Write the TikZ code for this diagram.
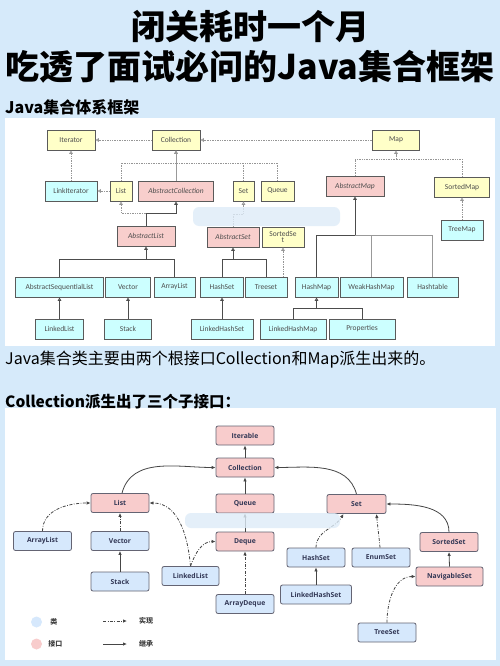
\documentclass[tikz,border=0pt]{standalone}
\usepackage{fontspec}
\setmainfont{Carlito}
\newfontfamily\cjkfont{Noto Sans CJK SC}
\newfontfamily\umlfont{Open Sans}
\usetikzlibrary{arrows.meta, positioning}
\definecolor{pagebg}{RGB}{214,234,250}
\definecolor{ifyellow}{RGB}{255,255,200}
\definecolor{abspink}{RGB}{248,206,204}
\definecolor{implcyan}{RGB}{204,255,255}
\definecolor{boxline}{RGB}{90,90,90}
\definecolor{dotgray}{RGB}{150,150,150}
\definecolor{umlpink}{RGB}{248,204,204}
\definecolor{umlblue}{RGB}{214,232,252}
\definecolor{umlline}{RGB}{100,100,115}
\definecolor{umltext}{RGB}{50,55,85}
\definecolor{arrowgray}{RGB}{70,70,70}
\definecolor{smudge}{RGB}{222,236,248}

\begin{document}
\begin{tikzpicture}[x=1pt, y=-1pt,
  box/.style={draw=boxline, line width=0.7pt, minimum height=20pt, inner sep=1pt,
    align=center, font=\fontsize{7.5}{7.5}\selectfont, text=black!70},
  iface/.style={box, fill=ifyellow},
  abstr/.style={box, fill=abspink, font=\fontsize{7.5}{7.5}\selectfont\itshape},
  impl/.style={box, fill=implcyan},
  hollow/.style={-{Triangle[open, length=3.5pt, width=3.5pt]}},
  realize/.style={draw=dotgray, densely dotted, line width=0.7pt},
  extend/.style={draw=black!70, line width=0.8pt},
  uml/.style={draw=umlline, line width=0.8pt, rounded corners=2pt, minimum width=58pt,
    minimum height=19pt, inner sep=1pt, font=\umlfont\bfseries\fontsize{6.8}{7}\selectfont, text=umltext},
  uiface/.style={uml, fill=umlpink},
  uclass/.style={uml, fill=umlblue},
  inherit/.style={draw=arrowgray, line width=0.8pt, -{Latex[length=4pt, width=3.5pt]}},
  implement/.style={inherit, dash pattern=on 3pt off 1.5pt on 0.8pt off 1.5pt},
  legend/.style={font=\cjkfont\bfseries\fontsize{7}{7}\selectfont, text=black!75, inner sep=0pt}
]
\useasboundingbox (0,0) rectangle (500,666);
\fill[pagebg] (0,0) rectangle (500,666);
\fill[white] (5,118) rectangle (495,346);
\fill[white] (5,408) rectangle (496,660);

\node[font=\cjkfont\bfseries\fontsize{34}{36}\selectfont] (title1) at (250,27) {闭关耗时一个月};
\node[font=\cjkfont\bfseries\fontsize{34}{36}\selectfont] (title2) at (250,67) {吃透了面试必问的Java集合框架};
\node[anchor=west, inner sep=0pt, font=\cjkfont\bfseries\fontsize{16}{18}\selectfont] (head1) at (5,107) {Java集合体系框架};
\node[anchor=west, inner sep=0pt, font=\cjkfont\fontsize{16}{18}\selectfont] (note1) at (5,360) {Java集合类主要由两个根接口Collection和Map派生出来的。};
\node[anchor=west, inner sep=0pt, font=\cjkfont\bfseries\fontsize{15.5}{18}\selectfont] (head2) at (5,402) {Collection派生出了三个子接口：};

% framework overview
\node[iface, minimum width=48pt] (iter) at (71,140) {Iterator};
\node[iface, minimum width=48pt] (coll) at (176,140) {Collection};
\node[iface, minimum width=47pt] (map) at (396,140) {Map};
\node[impl, minimum width=52pt] (linkiter) at (71,191) {LinkIterator};
\node[iface, minimum width=22pt] (list) at (121,191) {List};
\node[abstr, minimum width=75pt] (abscoll) at (176,191) {AbstractCollection};
\node[iface, minimum width=21pt] (set) at (243.5,191) {Set};
\node[iface, minimum width=33pt] (queue) at (277.5,191) {Queue};
\node[abstr, minimum width=58pt] (absmap) at (355,186) {AbstractMap};
\node[iface, minimum width=55pt] (sortmap) at (462,187) {SortedMap};
\node[impl, minimum width=42pt] (treemap) at (462,230) {TreeMap};
\node[abstr, minimum width=58pt] (abslist) at (146,236) {AbstractList};
\node[abstr, minimum width=52pt] (absset) at (233,237) {AbstractSet};
\node[iface, minimum width=42pt, font=\fontsize{7.5}{6.5}\selectfont] (sortset) at (283,237) {SortedSe\\t};
\node[impl, minimum width=88pt] (absseq) at (59.5,287) {AbstractSequentialList};
\node[impl, minimum width=45pt] (vector) at (128,287) {Vector};
\node[impl, minimum width=41pt] (arrlist) at (174.5,287) {ArrayList};
\node[impl, minimum width=43pt] (hashset) at (222,287) {HashSet};
\node[impl, minimum width=42pt] (treeset) at (266,287) {Treeset};
\node[impl, minimum width=43pt] (hashmap) at (316.5,287) {HashMap};
\node[impl, minimum width=63pt] (weakmap) at (371.5,287) {WeakHashMap};
\node[impl, minimum width=51pt] (htable) at (432.5,287) {Hashtable};
\node[impl, minimum width=48pt] (linked) at (59.5,329) {LinkedList};
\node[impl, minimum width=47pt] (stack) at (128,329) {Stack};
\node[impl, minimum width=62pt] (lhset) at (222,329) {LinkedHashSet};
\node[impl, minimum width=66pt] (lhmap) at (293,329) {LinkedHashMap};
\node[impl, minimum width=66pt] (props) at (362,329) {Properties};

\coordinate (cbus) at (176,163);
\coordinate (mbus) at (396,159);
\coordinate (albus) at (146,213);
\coordinate (asbus) at (233,214);
\coordinate (lbus) at (146,259);
\coordinate (sbus) at (233,259);
\coordinate (mapbus) at (355,235);
\coordinate (hmbus) at (316.5,308);

\draw[realize, hollow] (coll.west) -- (iter.east);
\draw[realize, hollow] (map.west) -- (coll.east);
\draw[realize, hollow] (linkiter.north) -- (iter.south);
\draw[realize, hollow] (list.west) -- (linkiter.east);
\draw[realize, hollow] (list.north) |- (cbus) -- (coll.south);
\draw[realize] (set.north) |- (cbus);
\draw[realize] (queue.north) |- (cbus);
\draw[extend, draw=black!40, hollow] (abscoll.north) -- (coll.south);
\draw[realize, hollow] (absmap.north) |- (mbus) -- (map.south);
\draw[realize] (sortmap.north) |- (mbus);
\draw[realize, hollow] (treemap.north) -- (sortmap.south);
\draw[extend, hollow] (abslist.north) -- (albus) -| (abscoll.south);
\draw[realize, hollow] (albus) -| (list.south);
\draw[realize, hollow] (absset.north) -- (asbus) -| (set.south);
\draw[extend, hollow] (absseq.north) |- (lbus) -- (abslist.south);
\draw[extend] (arrlist.north) |- (lbus);
\draw[extend, hollow] (hashset.north) |- (sbus) -- (absset.south);
\draw[extend] (treeset.north) |- (sbus);
\draw[realize, hollow] (treeset.north -| sortset.south) -- (sortset.south);
\draw[extend, hollow] (hashmap.north) |- (mapbus) -- (absmap.south);
\draw[extend, draw=black!40] (weakmap.north) |- (mapbus);
\draw[extend, draw=black!40] (htable.north) |- (mapbus);
\draw[extend, hollow] (linked.north) -- (absseq.south);
\draw[extend, hollow] (stack.north) -- (vector.south);
\draw[extend, hollow] (lhset.north) -- (hashset.south);
\draw[extend, hollow] (lhmap.north) |- (hmbus) -- (hashmap.south);
\draw[extend] (props.north) |- (hmbus);

\fill[smudge, opacity=0.8, rounded corners=6pt] (193,207) rectangle (340,226);

% collection interfaces
\node[uiface] (biter) at (245,435.5) {Iterable};
\node[uiface] (bcoll) at (245,467.5) {Collection};
\node[uiface] (bqueue) at (245,503.5) {Queue};
\node[uiface] (bdeque) at (245,541.5) {Deque};
\node[uclass] (barrdeque) at (245,604) {ArrayDeque};
\node[uiface] (blist) at (120,503) {List};
\node[uiface, minimum width=59pt] (bset) at (356.5,504) {Set};
\node[uclass] (barrlist) at (42.5,541) {ArrayList};
\node[uclass] (bvector) at (120,541) {Vector};
\node[uclass] (bstack) at (120,581.5) {Stack};
\node[uclass, minimum width=57pt] (blinked) at (190.5,576) {LinkedList};
\node[uclass] (bhashset) at (316,557.5) {HashSet};
\node[uclass] (benumset) at (381,557.5) {EnumSet};
\node[uclass, minimum width=71pt] (blhset) at (316,594.5) {LinkedHashSet};
\node[uiface] (bsortset) at (449,542) {SortedSet};
\node[uiface, minimum width=67pt] (bnavset) at (449.5,576.5) {NavigableSet};
\node[uclass] (btreeset) at (387,632.5) {TreeSet};

\draw[inherit] (bcoll.north) -- (biter.south);
\draw[inherit] (bqueue.north) -- (bcoll.south);
\draw[inherit] (bdeque.north) -- (bqueue.south);
\draw[implement] (barrdeque.north) -- (bdeque.south);
\draw[inherit] ([xshift=2pt]blist.north) to[out=75, in=180] (bcoll.west);
\draw[inherit] (bset.north) to[out=105, in=0] (bcoll.east);
\draw[implement] (bvector.north) -- (blist.south);
\draw[inherit] (bstack.north) -- (bvector.south);
\draw[implement] (barrlist.north) to[out=90, in=180] (blist.west);
\draw[implement] (blinked.north) to[out=95, in=0] (blist.east);
\draw[implement] (blinked.north) to[out=70, in=180] (bdeque.west);
\draw[implement] (bhashset.north) to[out=90, in=-120] ([xshift=-13pt]bset.south);
\draw[implement] ([xshift=-1pt]benumset.north) to[out=95, in=-85] ([xshift=20pt]bset.south);
\draw[inherit] (bsortset.north) to[out=90, in=0] (bset.east);
\draw[inherit] (bnavset.north) -- (bsortset.south);
\draw[implement] (btreeset.north) to[out=90, in=180] (bnavset.west);
\draw[inherit] (blhset.north) -- (bhashset.south);

\fill[smudge, opacity=0.8, rounded corners=6pt] (185,513) rectangle (340,528);

\node[circle, fill=umlblue, minimum size=11pt, inner sep=0pt] (lgclass) at (36.5,622) {};
\node[legend, anchor=west, right=8pt of lgclass] (lgclasstxt) {类};
\node[circle, fill=umlpink, minimum size=11pt, inner sep=0pt] (lgiface) at (36.5,644) {};
\node[legend, anchor=west, right=6pt of lgiface] (lgifacetxt) {接口};
\coordinate (lgimpla) at (103,621);
\coordinate (lgimplb) at (127,621);
\coordinate (lginha) at (103,644);
\coordinate (lginhb) at (127,644);
\draw[implement] (lgimpla) -- (lgimplb);
\draw[inherit] (lginha) -- (lginhb);
\node[legend, anchor=west] (lgimpltxt) at (139,621) {实现};
\node[legend, anchor=west] (lginhtxt) at (139,644) {继承};
\end{tikzpicture}
\end{document}
